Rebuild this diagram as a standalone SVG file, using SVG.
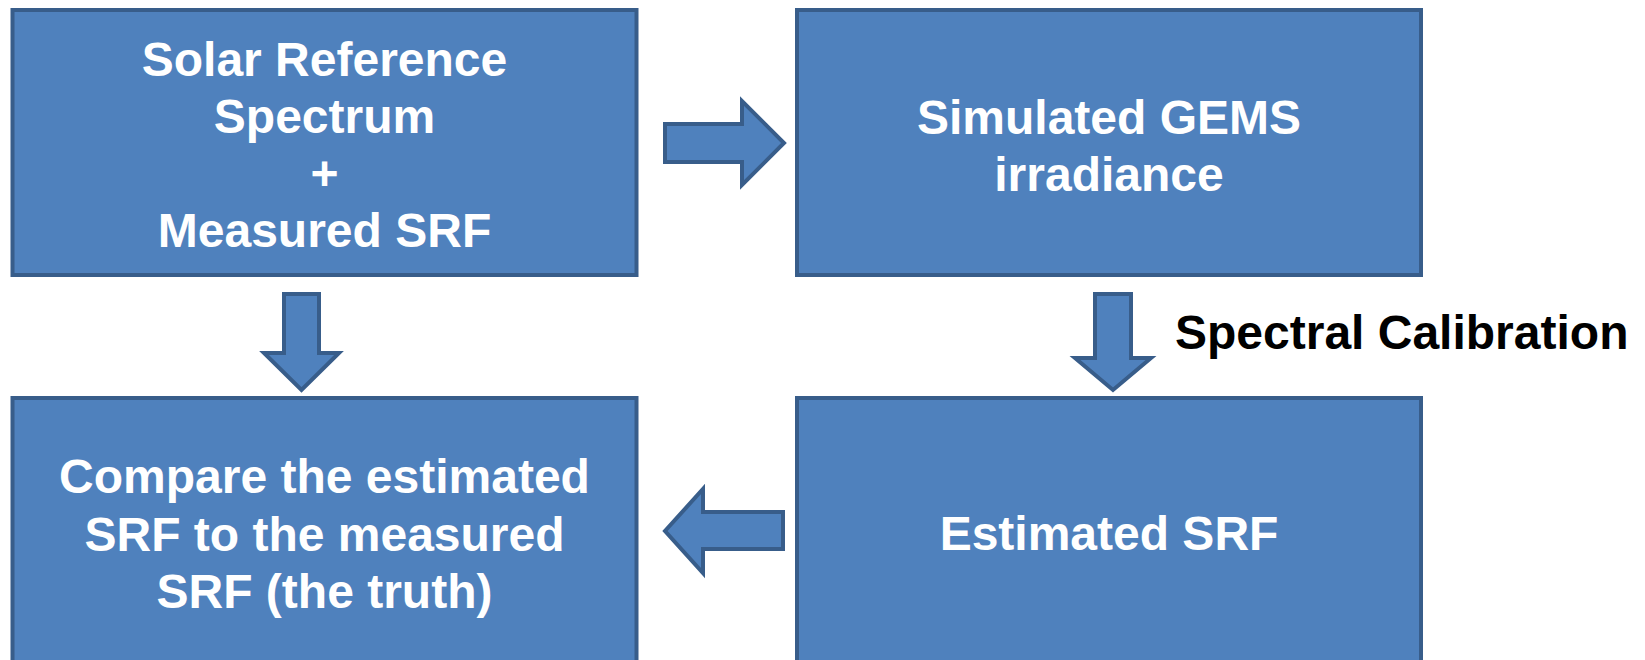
<svg xmlns="http://www.w3.org/2000/svg" width="1645" height="660" viewBox="0 0 1645 660">
<style>
.box{fill:#4F81BD;stroke:#385D8A;stroke-width:4}
.arr{fill:#4F81BD;stroke:#385D8A;stroke-width:4;stroke-linejoin:miter}
.t{font-family:"Liberation Sans",Arial,sans-serif;font-weight:bold;font-size:48px;fill:#FFFFFF;text-anchor:middle}
.lbl{font-family:"Liberation Sans",Arial,sans-serif;font-weight:bold;font-size:48px;fill:#000000}
</style>
<rect width="1645" height="660" fill="#FFFFFF"/>
<g id="node-solar">
<rect class="box" x="12.5" y="10" width="624" height="265"/>
<text class="t" x="324.5" y="76">Solar Reference</text>
<text class="t" x="324.5" y="133">Spectrum</text>
<text class="t" x="324.5" y="190">+</text>
<text class="t" x="324.5" y="247">Measured SRF</text>
</g>
<g id="node-simulated">
<rect class="box" x="797" y="10" width="624" height="265"/>
<text class="t" x="1109" y="134">Simulated GEMS</text>
<text class="t" x="1109" y="191">irradiance</text>
</g>
<g id="node-compare">
<rect class="box" x="12.5" y="398" width="624" height="280"/>
<text class="t" x="324.5" y="493">Compare the estimated</text>
<text class="t" x="324.5" y="551">SRF to the measured</text>
<text class="t" x="324.5" y="608">SRF (the truth)</text>
</g>
<g id="node-estimated">
<rect class="box" x="797" y="398" width="624" height="280"/>
<text class="t" x="1109" y="550">Estimated SRF</text>
</g>
<g id="connectors">
<polygon class="arr" points="665,124 742,124 742,101 784,143 742,185 742,162 665,162"/>
<polygon class="arr" points="284,294 319,294 319,353 339,353 301.5,390 264,353 284,353"/>
<polygon class="arr" points="1095,294 1131,294 1131,358 1151,358 1113,390 1075,358 1095,358"/>
<polygon class="arr" points="783,512 703,512 703,489 665,531 703,573 703,549 783,549"/>
<text class="lbl" x="1175" y="349">Spectral Calibration</text>
</g>
</svg>
